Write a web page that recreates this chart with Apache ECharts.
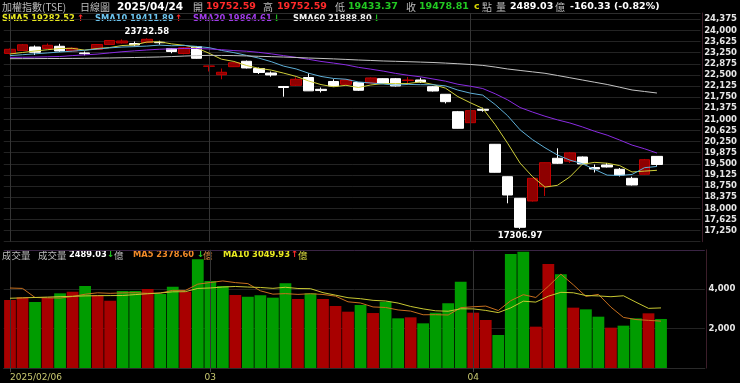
<!DOCTYPE html>
<html><head><meta charset="utf-8">
<script src="https://cdn.jsdelivr.net/npm/echarts@6/dist/echarts.min.js"></script>
<style>html,body{margin:0;padding:0;background:#000;}#c{width:740px;height:383px;}</style>
</head><body><div id="c"></div>
<script>
const dates = ['2025/02/06','2025/02/07','2025/02/10','2025/02/11','2025/02/12','2025/02/13','2025/02/14','2025/02/17','2025/02/18','2025/02/19','2025/02/20','2025/02/21','2025/02/24','2025/02/25','2025/02/26','2025/02/27',
'2025/03/03','2025/03/04','2025/03/05','2025/03/06','2025/03/07','2025/03/10','2025/03/11','2025/03/12','2025/03/13','2025/03/14','2025/03/17','2025/03/18','2025/03/19','2025/03/20','2025/03/21','2025/03/24','2025/03/25','2025/03/26','2025/03/27','2025/03/28','2025/03/31',
'2025/04/01','2025/04/02','2025/04/07','2025/04/08','2025/04/09','2025/04/10','2025/04/11','2025/04/14','2025/04/15','2025/04/16','2025/04/17','2025/04/18','2025/04/21','2025/04/22','2025/04/23','2025/04/24'];
const opens  = [23222,23323,23441,23390,23465,23306,23240,23363,23525,23576,23559,23593,23600,23390,23222,23451,22790,22507,22777,22959,22716,22564,22109,22149,22412,22014,22278,22183,22244,22227,22372,22372,22311,22328,22102,21846,21259,20888,21340,20160,19067,18339,18248,18730,19688,19590,19732,19378,19462,19317,19013,19150,19752.59];
const closes = [23363,23515,23262,23498,23306,23400,23215,23525,23660,23643,23508,23700,23585,23289,23414,23060,22800,22588,22908,22733,22581,22497,22075,22352,21962,21972,22126,22328,21981,22396,22210,22126,22328,22261,21957,21596,20699,21293,21306,19216,18450,17361,19013,19539,19519,19870,19496,19327,19395,19124,18788,19639.14,19478.81];
const lows   = [23188,23306,23171,23374,23272,23289,23160,23357,23508,23559,23458,23566,23520,23229,23195,23046,22615,22352,22767,22716,22531,22439,21765,22126,21957,21907,22109,22176,21957,22217,22193,22109,22217,22227,21940,21536,20693,20878,21259,19209,18170,17306.97,18231,18417,19496,19530,19479,19209,19378,19074,18771,19142,19433.37];
const highs  = [23390,23542,23492,23559,23549,23424,23290,23542,23677,23694,23626,23732.58,23650,23407,23441,23475,22817,22716,22935,22985,22750,22615,22126,22419,22554,22075,22352,22345,22261,22412,22385,22396,22429,22405,22126,21856,21283,21316,21394,20170,19074,18349,19024,19546,20025,19900,19749,19479,19530,19361,19067,19665,19752.59];
const volumes = [3452,3588,3350,3553,3790,3873,4162,3705,3418,3908,3908,4010,3756,4128,3873,5517,4416,4162,3705,3620,3688,3570,4298,3502,3790,3502,3147,2858,3198,2790,3367,2521,2572,2267,2808,3282,4382,2808,2436,1675,5787,5905,2098,5279,4754,3063,2977,2605,2047,2149,2521,2775,2489.03];
const sma5  = [23205,23255,23306,23347,23389,23396,23336,23389,23421,23489,23510,23607,23619,23545,23499,23410,23230,23030,22954,22818,22722,22661,22559,22448,22296,22173,22099,22149,22075,22160,22208,22208,22208,22264,22176,22054,21768,21561,21370,20822,20193,19525,19069,18716,18776,19060,19487,19550,19521,19442,19226,19255,19282.52];
const sma10 = [23150,23180,23210,23240,23270,23300,23330,23370,23410,23439,23453,23472,23504,23483,23494,23460,23418,23325,23250,23159,23066,22946,22795,22701,22557,22448,22380,22354,22261,22228,22191,22154,22179,22170,22168,22131,21988,21885,21817,21499,21123,20647,20315,20043,19799,19627,19506,19310,19119,19109,19143,19371,19411.89];
const sma20 = [23090,23095,23100,23110,23120,23150,23175,23200,23240,23280,23310,23340,23365,23380,23390,23390,23375,23350,23320,23299,23260,23209,23149,23092,23025,22954,22899,22839,22755,22693,22628,22550,22487,22435,22362,22289,22184,22119,22039,21863,21657,21400,21247,21106,20984,20879,20747,20597,20468,20304,20133,20009,19864.61];
const sma60 = [23046,23048,23050,23052,23053,23056,23060,23065,23070,23078,23086,23095,23104,23118,23135,23150,23158,23156,23150,23140,23127,23115,23102,23087,23070,23055,23040,23022,23002,22986,22969,22958,22945,22932,22918,22898,22876,22851,22820,22765,22699,22650,22602,22554,22480,22405,22328,22252,22177,22085,21991,21940,21888.80];
const volMa5  = [4060,4040,3580,3560,3547,3631,3746,3817,3790,3813,3820,3790,3800,3942,3935,4257,4338,4419,4335,4284,3918,3749,3776,3736,3770,3732,3648,3360,3299,3099,3072,2947,2890,2703,2707,2690,3062,3109,3143,2917,3418,3722,3580,4149,4765,4220,3634,3736,3089,2568,2460,2419,2378.60];
const volMa10 = [3540,3560,3580,3600,3620,3640,3660,3670,3675,3680,3726,3768,3808,3866,3874,4039,4064,4110,4138,4110,4088,4044,4098,4035,4027,3825,3698,3568,3517,3434,3402,3297,3125,3001,2903,2881,3005,3000,2923,2812,3054,3392,3345,3646,3841,3819,3678,3658,3619,3666,3340,3027,3049.93];
const priceAxis = [16875, 24587, 375];   // min, max, step
const volumeAxis = [0, 6000, 2000];
const monthTicks = ['2025/02/06','2025/03/03','2025/04/01'];
const monthTickLabels = ['2025/02/06','03','04'];
const headerDate = '2025/04/24';
const headerChange = '-160.33 (-0.82%)';
const padCount = 3;

const cats = dates.concat(Array.from({length: padCount}, (_, k) => ' '.repeat(k + 1)));
const candleData = dates.map((d, i) => [opens[i], closes[i], lows[i], highs[i]]);
const volData = volumes.map((v, i) => {
  const prev = i === 0 ? opens[0] : closes[i - 1];
  return { value: v, itemStyle: { color: closes[i] >= prev ? '#a80000' : '#009c00' } };
});
const last = a => a[a.length - 1];
const arrowUp = a => last(a) >= a[a.length - 2];
const f2 = v => Number(v).toFixed(2);
const RED = '#ff2a2a', GREEN = '#22c822';
const FB = '"DejaVu Sans"';
const CJK = '"Noto Sans CJK TC"';
function txt(x, y, text, fill, font) {
  return { type: 'text', x: x, y: y, silent: true, style: { text: text, fill: fill, font: font, verticalAlign: 'middle' } };
}
const arrow = (x, y, up) => txt(x, y, up ? '↑' : '↓', up ? RED : GREEN, 'bold 9px ' + FB);
const numFont = 'bold 9.5px ' + FB;
const cjkFont = '10px ' + CJK;
const smaFont = 'bold 8.3px ' + FB;
const lastIdx = dates.length - 1;

const graphics = [
  txt(2, 7, '加權指數(TSE)', '#bdbdbd', cjkFont),
  txt(80, 7, '日線圖', '#bdbdbd', cjkFont),
  txt(117, 7, headerDate, '#ffffff', 'bold 10.5px ' + FB),
  txt(193, 7, '開', '#bdbdbd', cjkFont),
  txt(206, 7, f2(opens[lastIdx]), RED, numFont),
  txt(263, 7, '高', '#bdbdbd', cjkFont),
  txt(277, 7, f2(highs[lastIdx]), RED, numFont),
  txt(335, 7, '低', '#bdbdbd', cjkFont),
  txt(348, 7, f2(lows[lastIdx]), GREEN, numFont),
  txt(406, 7, '收', '#bdbdbd', cjkFont),
  txt(419, 7, f2(closes[lastIdx]), GREEN, numFont),
  txt(474, 7, 'c', '#d8d800', numFont),
  txt(482, 7, '點', '#bdbdbd', cjkFont),
  txt(496, 7, '量', '#bdbdbd', cjkFont),
  txt(510, 7, f2(volumes[lastIdx]), '#ffffff', numFont),
  txt(555, 7, '億', '#bdbdbd', cjkFont),
  txt(570, 7, headerChange, '#ffffff', numFont),

  txt(2, 19, 'SMA5 ' + f2(last(sma5)), '#e8e820', smaFont), arrow(77, 19, arrowUp(sma5)),
  txt(95, 19, 'SMA10 ' + f2(last(sma10)), '#6cc4ee', smaFont), arrow(175, 19, arrowUp(sma10)),
  txt(193, 19, 'SMA20 ' + f2(last(sma20)), '#a03ce8', smaFont), arrow(273, 19, arrowUp(sma20)),
  txt(293, 19, 'SMA60 ' + f2(last(sma60)), '#f0f0f0', smaFont), arrow(373, 19, arrowUp(sma60)),

  txt(2, 255, '成交量', '#bdbdbd', '9.5px ' + CJK),
  txt(38, 255, '成交量', '#bdbdbd', '9.5px ' + CJK),
  txt(69, 255, f2(last(volumes)), '#ffffff', smaFont), arrow(107, 255, arrowUp(volumes)),
  txt(114, 255, '億', '#bdbdbd', '9.5px ' + CJK),
  txt(133, 255, 'MA5 ' + f2(last(volMa5)), '#f08a28', smaFont), arrow(197, 255, arrowUp(volMa5)),
  txt(203, 255, '億', '#d88a40', '9.5px ' + CJK),
  txt(223, 255, 'MA10 ' + f2(last(volMa10)), '#e8e820', smaFont), arrow(291, 255, arrowUp(volMa10)),
  txt(298, 255, '億', '#d8d840', '9.5px ' + CJK)
];

const gridL = 3.74, gridW = 701.1;
const monthIdx = monthTicks.map(d => cats.indexOf(d));
const priceSplitColors = [];
for (let v = priceAxis[0]; v <= priceAxis[1]; v += priceAxis[2]) priceSplitColors.push('#232323');
priceSplitColors.push('#2e2e2e');
const vLines = { silent: true, symbol: ['none', 'none'], label: { show: false }, animation: false,
  lineStyle: { color: '#343434', width: 1, type: 'solid' }, emphasis: { disabled: true },
  data: monthTicks.map(d => ({ xAxis: d })) };
const lineS = (name, data, color, xi, yi) => ({ name: name, type: 'line', data: data, xAxisIndex: xi, yAxisIndex: yi,
  showSymbol: false, symbol: 'none', silent: true, lineStyle: { color: color, width: 1 }, z: 5 });

const option = {
  backgroundColor: '#000000',
  animation: false,
  graphic: graphics,
  grid: [
    { left: gridL, top: 13, width: gridW, height: 228.7 },
    { left: gridL, top: 249.8, width: gridW, height: 118.2 }
  ],
  xAxis: [
    { type: 'category', gridIndex: 0, data: cats, boundaryGap: true, axisLine: { show: false }, axisTick: { show: false }, axisLabel: { show: false }, splitLine: { show: false } },
    { type: 'category', gridIndex: 1, data: cats, boundaryGap: true,
      axisLine: { show: true, lineStyle: { color: '#2a2a2a' } },
      axisTick: { show: true, alignWithLabel: true, length: 4, interval: (i) => monthIdx.includes(i), lineStyle: { color: '#444' } },
      axisLabel: { show: true, interval: (i) => monthIdx.includes(i), alignMinLabel: 'left', margin: 5,
        formatter: (v, i) => { const k = monthIdx.indexOf(i); return k >= 0 ? monthTickLabels[k] : ''; },
        color: '#c8c870', fontSize: 9, fontFamily: 'DejaVu Sans' },
      splitLine: { show: false } }
  ],
  yAxis: [
    { type: 'value', gridIndex: 0, position: 'right', min: priceAxis[0], max: priceAxis[1], interval: priceAxis[2], offset: 1.7,
      axisLine: { show: true, lineStyle: { color: '#3c1e2a' } }, axisTick: { show: false },
      axisLabel: { showMinLabel: false, showMaxLabel: false, margin: 2, color: '#e6e6e6', fontSize: 8.5, fontWeight: 'bold', fontFamily: 'DejaVu Sans' },
      splitLine: { show: true, lineStyle: { color: priceSplitColors, width: 1 } } },
    { type: 'value', gridIndex: 1, position: 'right', min: volumeAxis[0], max: volumeAxis[1], interval: volumeAxis[2], offset: 1.7,
      axisLine: { show: true, lineStyle: { color: '#3c1e2a' } }, axisTick: { show: false },
      axisLabel: { showMinLabel: false, showMaxLabel: false, margin: 2, color: '#e6e6e6', fontSize: 8.5, fontWeight: 'bold', fontFamily: 'DejaVu Sans' },
      splitLine: { show: true, lineStyle: { color: ['#2a2a2a', '#232323', '#232323', '#3a2444'], width: 1 } } }
  ],
  series: [
    { name: 'K', type: 'candlestick', xAxisIndex: 0, yAxisIndex: 0, data: candleData, barWidth: 11, silent: true,
      itemStyle: { color: '#8e0000', color0: '#ffffff', borderColor: '#c00000', borderColor0: '#ffffff', borderWidth: 1 },
      markLine: vLines,
      markPoint: { symbol: 'circle', symbolSize: 0, silent: true, animation: false,
        label: { show: true, color: '#ffffff', fontSize: 8.5, fontWeight: 'bold', fontFamily: 'DejaVu Sans', formatter: p => f2(p.value) },
        data: [
          { type: 'max', valueDim: 'highest', label: { position: 'top', distance: 2 } },
          { type: 'min', valueDim: 'lowest', label: { position: 'bottom', distance: 2 } }
        ] } },
    lineS('SMA5', sma5, '#cfcf3a', 0, 0),
    lineS('SMA10', sma10, '#5eaed6', 0, 0),
    lineS('SMA20', sma20, '#8a2be2', 0, 0),
    lineS('SMA60', sma60, '#c4c4c4', 0, 0),
    { name: 'VOL', type: 'bar', xAxisIndex: 1, yAxisIndex: 1, data: volData, barWidth: '94%', silent: true, markLine: vLines },
    lineS('VMA5', volMa5, '#c8701e', 1, 1),
    lineS('VMA10', volMa10, '#c8c832', 1, 1)
  ]
};
const chart = echarts.init(document.getElementById('c'), null, { renderer: 'canvas', width: 740, height: 383 });
chart.setOption(option);
</script></body></html>
